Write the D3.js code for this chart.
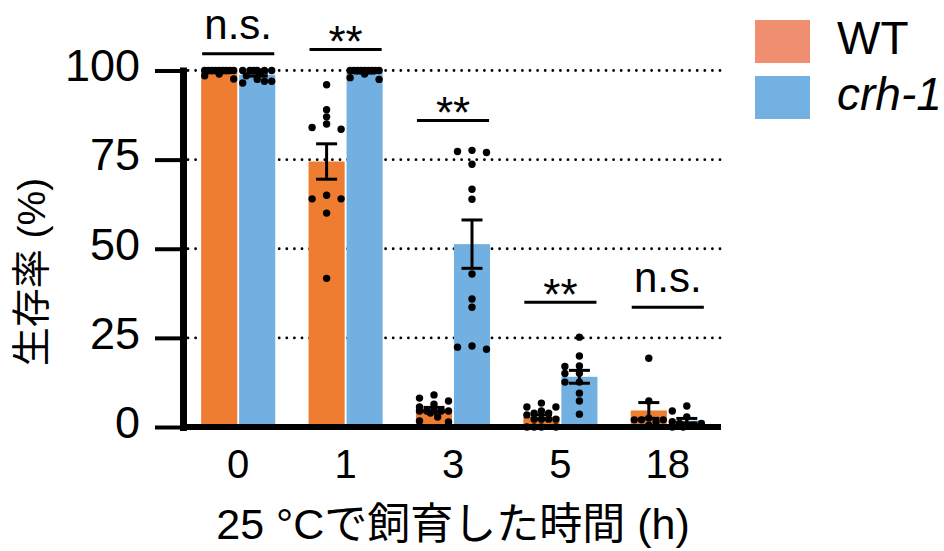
<!DOCTYPE html>
<html>
<head>
<meta charset="utf-8">
<script src="https://cdn.jsdelivr.net/npm/d3@7"></script>
<style>
  body { margin: 0; background: #fff; }
  svg { display: block; }
  text { font-family: "Liberation Sans", Arial, "Noto Sans CJK JP", sans-serif; fill: #000; }
</style>
</head>
<body>
<svg id="chart" width="944" height="551"></svg>
<script>
// Survival (%) of individual trials at each incubation time
const timePoints = ["0", "1", "3", "5", "18"];
const seriesNames = ["WT", "crh-1"];
const wtSurvival = [
  [100, 100, 100, 100, 100, 100, 100, 100, 100, 99, 98.5, 97.6],
  [96, 89, 87, 85, 84, 83.5, 65, 64, 64, 60, 41.7],
  [9, 8.1, 7.3, 6.4, 5.6, 4.5, 4.5, 4.5, 4.5, 4.5, 3.9, 2.8, 1.7, 1.4],
  [6.7, 5.6, 5.6, 4.5, 3.9, 3.9, 3.4, 2.2, 2.2, 2.2, 2.2, 0, 0, 0, 0],
  [19.3, 7.3, 2.5, 2, 2, 2, 1.5, 0.5]
];
const crhSurvival = [
  [100, 100, 100, 100, 100, 100, 99.5, 98.5, 97.5, 97, 97, 96.5],
  [100, 100, 100, 100, 100, 100, 100, 100, 100, 99, 98, 97.5],
  [77.3, 77.6, 77, 73.7, 66.7, 63.9, 42.9, 35.9, 33.6, 21.8, 22.7, 22.4],
  [25.2, 19.9, 17.1, 17, 15.1, 15, 12.6, 12.6, 9.5, 7.3, 3.6],
  [5.9, 4.5, 2.8, 1.5, 1, 1, 0.5, 0.5, 0, 0]
];
const yTicks = [0, 25, 50, 75, 100];
const sigLabels = ["n.s.", "**", "**", "**", "n.s."];
const sigHeights = [104.7, 105.9, 86, 35, 33.6];   // bracket level, in % units
const xTitle = "25 °Cで飼育した時間 (h)";
const yTitle = "生存率 (%)";

const barColors = { "WT": "#EE7D31", "crh-1": "#73B0E2" };
const legendColors = { "WT": "#EF8F6F", "crh-1": "#73B1E2" };

const svg = d3.select("#chart");

const y = d3.scaleLinear([0, 100], [427, 70.5]);
const x = d3.scaleBand(timePoints, [184.5, 721.5]).paddingInner(0.31).paddingOuter(0.155);
const xs = d3.scaleBand(seriesNames, [0, x.bandwidth()]).paddingInner(0.05);

const groups = timePoints.map((t, i) => ({
  time: t,
  series: [
    { name: "WT", values: wtSurvival[i] },
    { name: "crh-1", values: crhSurvival[i] }
  ]
}));

// dotted gridlines
svg.append("g").selectAll("line")
  .data(yTicks.filter(v => v > 0))
  .join("line")
  .attr("x1", 188).attr("x2", 721)
  .attr("y1", d => y(d)).attr("y2", d => y(d))
  .attr("stroke", "#000").attr("stroke-width", 2.8)
  .attr("stroke-linecap", "round").attr("stroke-dasharray", "0 7.6");

// bars (mean)
const gGroup = svg.append("g").selectAll("g")
  .data(groups).join("g")
  .attr("transform", d => `translate(${x(d.time)},0)`);

gGroup.selectAll("rect")
  .data(d => d.series).join("rect")
  .attr("x", d => xs(d.name))
  .attr("width", xs.bandwidth())
  .attr("y", d => y(d3.mean(d.values)))
  .attr("height", d => y(0) - y(d3.mean(d.values)))
  .attr("fill", d => barColors[d.name]);

// beeswarm placement of individual points
const dotR = 3.7, dotGap = 7, dotStep = 14.5;
function swarm(values, cx) {
  const pts = values.map(v => ({ v, y: y(v) })).sort((a, b) => a.y - b.y);
  const offsets = [0, -1, 1, -0.5, 0.5, -0.25, 0.25, -0.75, 0.75].map(k => k * dotStep);
  const placed = [];
  for (const p of pts) {
    let best = 0, bestD = -1;
    for (const o of offsets) {
      const d = placed.length ? d3.min(placed, q => Math.hypot(q.x - (cx + o), q.y - p.y)) : Infinity;
      if (d >= dotGap) { best = o; break; }
      if (d > bestD) { bestD = d; best = o; }
    }
    p.x = cx + best;
    placed.push(p);
  }
  return placed;
}

gGroup.selectAll("g.dots")
  .data(d => d.series).join("g").attr("class", "dots")
  .selectAll("circle")
  .data(d => swarm(d.values, xs(d.name) + xs.bandwidth() / 2))
  .join("circle")
  .attr("cx", d => d.x).attr("cy", d => d.y).attr("r", dotR)
  .attr("fill", "#000");

// mean ± SEM
const capW = 21;
const errG = gGroup.selectAll("g.err")
  .data(d => d.series.map(s => {
    const m = d3.mean(s.values);
    const sem = d3.deviation(s.values) / Math.sqrt(s.values.length);
    return { name: s.name, lo: m - sem, hi: m + sem };
  }))
  .join("g").attr("class", "err")
  .attr("transform", d => `translate(${xs(d.name) + xs.bandwidth() / 2},0)`)
  .attr("stroke", "#000").attr("stroke-width", 3);
errG.append("line").attr("y1", d => y(d.lo)).attr("y2", d => y(d.hi));
errG.append("line").attr("x1", -capW / 2).attr("x2", capW / 2).attr("y1", d => y(d.hi)).attr("y2", d => y(d.hi));
errG.append("line").attr("x1", -capW / 2).attr("x2", capW / 2).attr("y1", d => y(d.lo)).attr("y2", d => y(d.lo));

// significance brackets
const sig = svg.append("g").selectAll("g")
  .data(timePoints.map((t, i) => ({ t, label: sigLabels[i], level: sigHeights[i] })))
  .join("g");
sig.append("line")
  .attr("x1", d => x(d.t) + 1).attr("x2", d => x(d.t) + x.bandwidth() - 1)
  .attr("y1", d => y(d.level)).attr("y2", d => y(d.level))
  .attr("stroke", "#000").attr("stroke-width", 3);
sig.append("text")
  .attr("x", d => x(d.t) + x.bandwidth() / 2)
  .attr("y", d => d.label === "**" ? y(d.level) + 8 : y(d.level) - 15)
  .attr("text-anchor", "middle")
  .attr("font-size", d => d.label === "**" ? 44 : 42)
  .text(d => d.label);

// x axis baseline and labels
svg.append("line")
  .attr("x1", 180).attr("x2", 721)
  .attr("y1", y(0)).attr("y2", y(0))
  .attr("stroke", "#000").attr("stroke-width", 6);

svg.append("g").selectAll("text")
  .data(timePoints).join("text")
  .attr("x", d => x(d) + x.bandwidth() / 2)
  .attr("y", 478)
  .attr("text-anchor", "middle")
  .attr("font-size", 40)
  .text(d => d);

// y axis
const yAxis = svg.append("g")
  .attr("transform", "translate(183,0)")
  .call(d3.axisLeft(y).tickValues(yTicks).tickSize(28).tickPadding(15).tickSizeOuter(0));
yAxis.select(".domain").attr("stroke-width", 7).attr("stroke-linecap", "square");
yAxis.selectAll(".tick line").attr("stroke-width", 4);
yAxis.selectAll(".tick text")
  .attr("font-size", 45).attr("dy", "0.23em")
  .style("font-family", '"Liberation Sans", Arial, sans-serif');

// axis titles
svg.append("text")
  .attr("x", 453).attr("y", 539)
  .attr("text-anchor", "middle")
  .attr("font-size", 43)
  .text(xTitle);

svg.append("text")
  .attr("transform", "translate(45,272) rotate(-90)")
  .attr("text-anchor", "middle")
  .attr("font-size", 39)
  .text(yTitle);

// legend
const leg = svg.append("g").selectAll("g")
  .data(seriesNames).join("g")
  .attr("transform", (d, i) => `translate(755,${20 + i * 56})`);
leg.append("rect").attr("width", 55).attr("height", 43).attr("fill", d => legendColors[d]);
leg.append("text")
  .attr("x", 82).attr("y", 34)
  .attr("font-size", 46)
  .attr("font-style", d => d === "crh-1" ? "italic" : "normal")
  .text(d => d);
</script>
</body>
</html>
